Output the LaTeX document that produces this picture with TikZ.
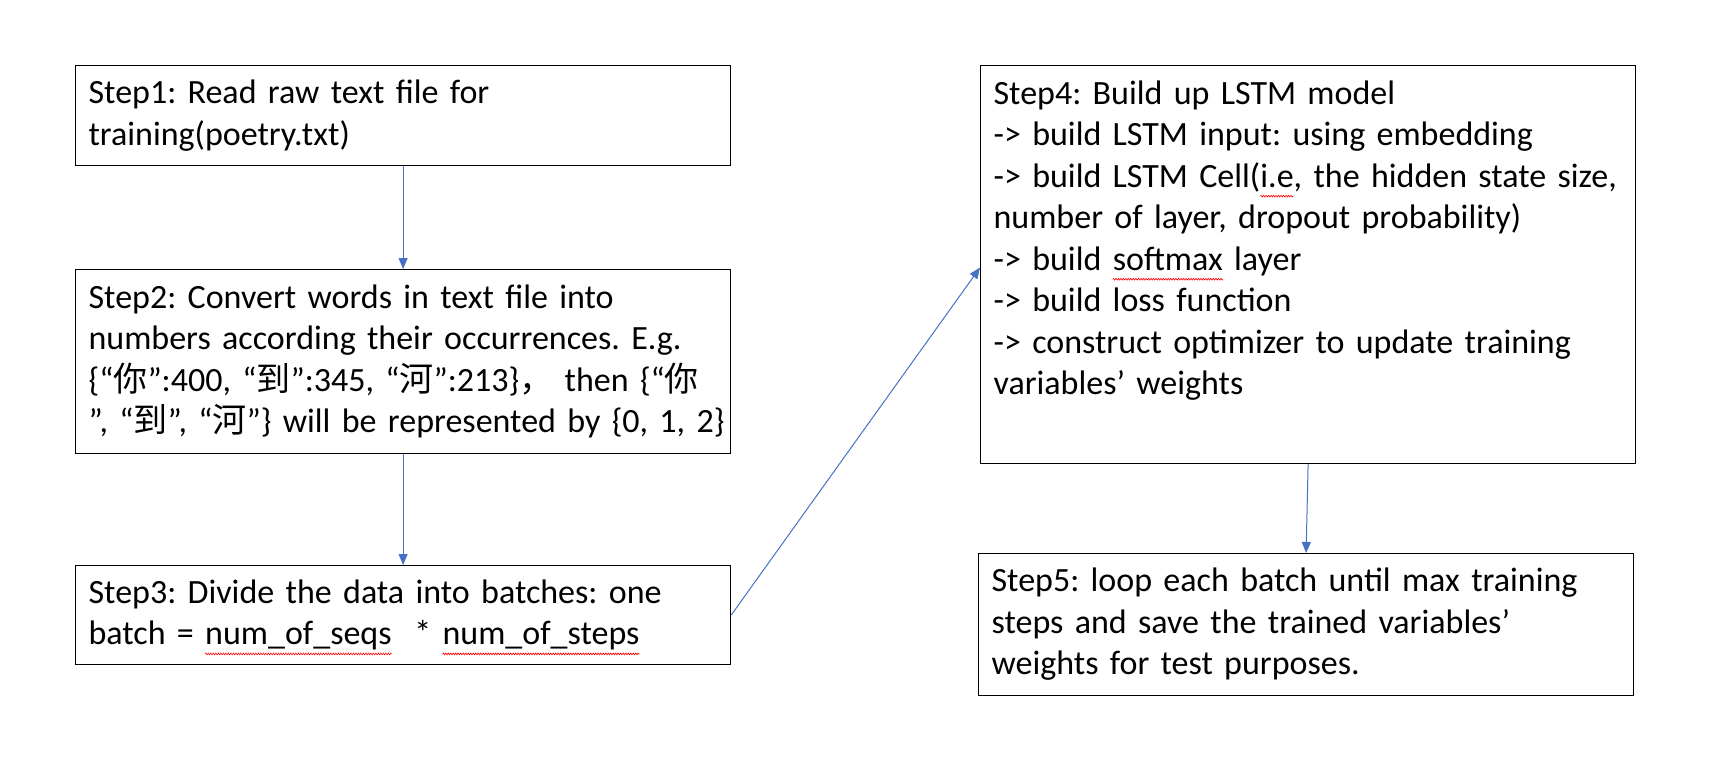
\documentclass[tikz,border=0pt]{standalone}
\usepackage{fontspec}
\setmainfont{Carlito}
\newfontfamily\cjk{Noto Sans CJK SC}
\usetikzlibrary{arrows.meta,decorations.pathmorphing}
\definecolor{arrowblue}{HTML}{4472C4}
\newsavebox\sqbox
\newcommand\sq[1]{\sbox\sqbox{#1}\edef\sqw{\the\wd\sqbox}%
  \rlap{\tikz[overlay,baseline=0pt]\draw[red,line width=0.6pt,decorate,
    decoration={zigzag,segment length=2.5pt,amplitude=0.9pt}] (0pt,-9pt) -- (\sqw,-9pt);}%
  \usebox\sqbox}
\begin{document}
\begin{tikzpicture}[x=1pt,y=-1pt,
  stepbox/.style={draw=black, line width=1.2pt, rectangle, anchor=north west, align=left,
    inner xsep=13pt, inner ysep=0pt, text width=629pt, minimum width=655pt,
    font=\fontsize{34}{41.5}\selectfont\frenchspacing},
  conn/.style={draw=arrowblue, line width=1pt, -{Triangle[length=11pt,width=9pt]}}]
\fill[white] (0,0) rectangle (1710,782);
\useasboundingbox (0,0) rectangle (1710,782);
\node[stepbox, minimum height=100pt] (s1) at (75,65)
  {Step1: Read raw text file for\\training(poetry.txt)};
\node[stepbox, minimum height=184pt] (s2) at (75,269)
  {Step2: Convert words in text file into\\
   \mbox{numbers according their occurrences. E.g.}\\
   \mbox{\{“{\cjk 你}”:400, “{\cjk 到}”:345, “{\cjk 河}”:213\}{\cjk ，} then \{“{\cjk 你}}\\
   \mbox{”, “{\cjk 到}”, “{\cjk 河}”\} will be represented by \{0, 1, 2\}}};
\node[stepbox, minimum height=99pt] (s3) at (75,565)
  {Step3: Divide the data into batches: one\\
   batch = \sq{num\_of\_seqs}\ \ * \sq{num\_of\_steps}};
\node[stepbox, minimum height=398pt] (s4) at (980,65)
  {Step4: Build up LSTM model\\
   -> build LSTM input: using embedding\\
   \mbox{-> build LSTM Cell(\sq{i.e}, the hidden state size,}\\
   number of layer, dropout probability)\\
   -> build \sq{softmax} layer\\
   -> build loss function\\
   -> construct optimizer to update training\\
   variables’ weights\\
   \strut};
\node[stepbox, minimum height=142pt] (s5) at (978,553)
  {Step5: loop each batch until max training\\
   steps and save the trained variables’\\
   weights for test purposes.};
\draw[conn] (s1.south) -- (s2.north);
\draw[conn] (s2.south) -- (s3.north);
\draw[conn] (s3.east) -- ([yshift=-3pt]s4.west);
\draw[conn] (s4.south) -- (s5.north);
\end{tikzpicture}
\end{document}
